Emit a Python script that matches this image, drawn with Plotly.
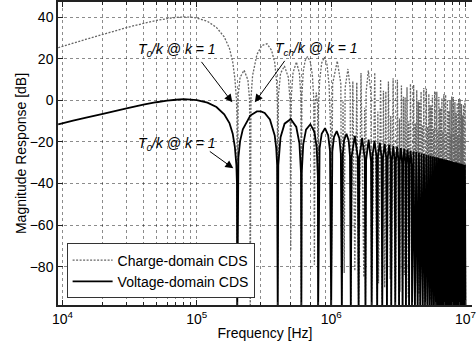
import plotly.graph_objects as go

# ---------------- data ----------------
# Voltage-domain CDS: frequency [kHz] and magnitude [dB]
v_freq_khz = [
    9.3, 12, 15, 20, 30, 40, 50, 60, 70, 80, 90, 100, 120, 140, 160, 175, 185, 192, 197, 199, 200,
    204, 210, 220, 250, 280, 300, 320, 350, 380, 390, 396, 400,
    404, 420, 450, 500, 550, 580, 596, 600,
    604, 620, 650, 700, 750, 780, 796, 800,
    820, 850, 900, 950, 980, 1000,
    1020, 1050, 1100, 1150, 1180, 1200,
    1220, 1250, 1300, 1350, 1380, 1400,
    1420, 1500, 1580, 1600,
    1620, 1700, 1780, 1800,
    1820, 1900, 1980, 2000,
    2030, 2100, 2170, 2200,
    2230, 2300, 2370, 2400,
    2430, 2500, 2570, 2600,
    2630, 2700, 2770, 2800,
    2830, 2900, 2970, 3000,
    3030, 3100, 3170, 3200,
    3230, 3300, 3370, 3400,
    3430, 3500, 3570, 3600,
    3630, 3700, 3770, 3800,
    3830, 3900, 3970, 4000,
    4100, 4200, 4300, 4400, 4500, 4600, 4700, 4800, 4900, 5000,
    5100, 5200, 5300, 5400, 5500, 5600, 5700, 5800, 5900, 6000,
    6100, 6200, 6300, 6400, 6500, 6600, 6700, 6800, 6900, 7000,
    7100, 7200, 7300, 7400, 7500, 7600, 7700, 7800, 7900, 8000,
    8100, 8200, 8300, 8400, 8500, 8600, 8700, 8800, 8900, 9000,
    9100, 9200, 9300, 9400, 9500, 9600, 9700, 9800, 9900, 10000,
]
v_db = [
    -11.5, -9.7, -8.3, -6.5, -3.8, -2.1, -0.9, -0.1, 0.3, 0.6, 0.4, 0.1, -1.1, -3.2, -6.7, -10.9, -16.0, -22.5, -31.0, -40.0, -100,
    -27.4, -19.6, -13.9, -7.3, -5.3, -5.3, -6.1, -9.2, -16.9, -23.0, -31.0, -100,
    -31.2, -17.7, -11.2, -9.0, -12.8, -20.5, -34.5, -100,
    -34.7, -21.0, -14.1, -11.5, -15.1, -22.6, -36.6, -100,
    -23.1, -16.1, -13.4, -16.8, -24.3, -100,
    -24.5, -17.5, -14.8, -18.2, -25.6, -100,
    -25.8, -18.8, -16.1, -19.4, -26.8, -100,
    -26.9, -17.1, -27.7, -100,
    -27.8, -18.0, -28.5, -100,
    -28.7, -18.9, -29.3, -100,
    -26.5, -19.6, -26.6, -100,
    -27.1, -20.3, -27.3, -100,
    -27.7, -20.9, -27.9, -100,
    -28.2, -21.4, -28.4, -100,
    -28.8, -22.0, -29.0, -100,
    -29.2, -22.4, -29.4, -100,
    -29.7, -22.9, -29.9, -100,
    -30.1, -23.3, -30.3, -100,
    -30.5, -23.7, -30.7, -100,
    -30.9, -24.1, -31.1, -100,
    -24.5, -100, -24.8, -100, -25.2, -100, -25.5, -100, -25.8, -100,
    -26.1, -100, -26.4, -100, -26.6, -100, -26.9, -100, -27.2, -100,
    -27.4, -100, -27.6, -100, -27.9, -100, -28.1, -100, -28.3, -100,
    -28.5, -100, -28.7, -100, -28.9, -100, -29.1, -100, -29.3, -100,
    -29.5, -100, -29.7, -100, -29.8, -100, -30.0, -100, -30.2, -100,
    -30.3, -100, -30.5, -100, -30.7, -100, -30.8, -100, -31.0, -100,
]

# Charge-domain CDS: frequency [kHz] and magnitude [dB]
c_freq_khz = [
    9.3, 12, 15, 20, 30, 40, 50, 60, 70, 80, 90, 100, 120, 140, 160, 175, 185, 192, 197, 199, 200,
    203, 210, 225, 240, 247, 250,
    253, 260, 280, 305, 333, 360, 380, 393, 398, 400,
    405, 420, 449, 480, 495, 500,
    505, 520, 551, 580, 595, 600,
    605, 620, 640, 667, 700, 725, 742, 750,
    758, 775, 792, 800,
    805, 820, 850, 890, 930, 965, 990, 1000,
    1025, 1110, 1180, 1200,
    1225, 1250,
    1270, 1333, 1385, 1400,
    1449, 1500,
    1551, 1600,
    1667, 1750,
    1775, 1800,
    1820, 1890, 1975, 2000,
    2110, 2200, 2225, 2250, 2333, 2400, 2449, 2500, 2551, 2600, 2667, 2750, 2775, 2800, 2890, 3000,
    3110, 3200, 3225, 3250, 3333, 3400, 3449, 3500, 3551, 3600, 3667, 3750, 3775, 3800, 3890, 4000,
    4110, 4200, 4225, 4250, 4333, 4400, 4449, 4500, 4551, 4600, 4667, 4750, 4775, 4800, 4890, 5000,
    5110, 5200, 5225, 5250, 5333, 5400, 5449, 5500, 5551, 5600, 5667, 5750, 5775, 5800, 5890, 6000,
    6110, 6200, 6225, 6250, 6333, 6400, 6449, 6500, 6551, 6600, 6667, 6750, 6775, 6800, 6890, 7000,
    7110, 7200, 7225, 7250, 7333, 7400, 7449, 7500, 7551, 7600, 7667, 7750, 7775, 7800, 7890, 8000,
    8110, 8200, 8225, 8250, 8333, 8400, 8449, 8500, 8551, 8600, 8667, 8750, 8775, 8800, 8890, 9000,
    9110, 9200, 9225, 9250, 9333, 9400, 9449, 9500, 9551, 9600, 9667, 9750, 9775, 9800, 9890, 10000,
]
c_db = [
    25.3, 27.5, 29.4, 31.7, 35.0, 37.0, 38.4, 39.3, 39.9, 40.1, 40.0, 39.6, 38.0, 35.1, 30.5, 25.0, 18.5, 10.5, 1.0, -8.0, -100,
    2.2, 11.1, 14.5, 9.8, 0.3, -100,
    0.9, 11.9, 22.0, 26.4, 27.2, 24.1, 18.2, 8.7, -2.2, -100,
    2.3, 13.0, 16.5, 11.0, -0.8, -72,
    1.9, 13.2, 18.5, 13.1, 1.8, -100,
    2.0, 14.0, 19.1, 21.1, 18.5, 11.9, 0.6, -79,
    -1.8, 3.7, -2.3, -100,
    -4.1, 9.3, 18.0, 20.8, 17.4, 7.3, -14.0, -100,
    8.0, 18.9, 8.0, -100,
    -0.2, -83,
    6.0, 15.1, 6.0, -100,
    9.2, -82,
    8.6, -100,
    13.2, -85,
    -3.5, -100,
    4.0, 14.3, 4.0, -100,
    13.3, -100, -5.4, -88, 10.2, -100, 4.6, -90, 4.3, -100, 9.1, -86, -7.4, -100, 10.6, -100,
    9.9, -100, -8.7, -92, 7.1, -100, 1.7, -84, 1.4, -100, 6.3, -95, -10.0, -100, 8.0, -100,
    7.5, -100, -11.0, -88, 4.9, -100, -0.6, -93, -0.7, -100, 4.2, -86, -12.1, -100, 6.0, -100,
    5.6, -100, -12.8, -90, 3.1, -100, -2.3, -96, -2.5, -100, 2.5, -89, -13.7, -100, 4.4, -100,
    4.1, -100, -14.4, -94, 1.6, -100, -3.8, -87, -3.9, -100, 1.1, -97, -15.1, -100, 3.0, -100,
    2.7, -100, -15.7, -91, 0.3, -100, -5.0, -95, -5.1, -100, -0.1, -88, -16.3, -100, 1.8, -100,
    1.6, -100, -16.8, -100, -0.8, -100, -6.1, -92, -6.2, -100, -1.2, -96, -17.3, -100, 0.8, -100,
    0.6, -100, -17.8, -90, -1.8, -100, -7.1, -100, -7.2, -100, -2.1, -94, -18.3, -100, -0.1, -100,
]

x_tick_vals = [1e4, 1e5, 1e6, 1e7]
x_tick_text = ["10<sup>4</sup>", "10<sup>5</sup>", "10<sup>6</sup>", "10<sup>7</sup>"]
y_tick_vals = [-80, -60, -40, -20, 0, 20, 40]

assert len(v_freq_khz) == len(v_db)
assert len(c_freq_khz) == len(c_db)

v_freq_hz = [f * 1e3 for f in v_freq_khz]
c_freq_hz = [f * 1e3 for f in c_freq_khz]

minor_vals = [m * 10 ** e for e in (4, 5, 6) for m in range(2, 10)]

GRID = "rgba(0,0,0,0.45)"
AX = "#222222"
FONT = "Liberation Sans, Arial, sans-serif"

fig = go.Figure()
fig.add_trace(go.Scatter(
    x=c_freq_hz, y=c_db, mode="lines", name="Charge-domain CDS",
    line=dict(color="#666666", width=1.3, dash="2px,1.5px", simplify=False),
    hoverinfo="skip",
))
fig.add_trace(go.Scatter(
    x=v_freq_hz, y=v_db, mode="lines", name="Voltage-domain CDS",
    line=dict(color="black", width=1.8, simplify=False),
    hoverinfo="skip",
))

fig.update_layout(
    width=476, height=348,
    margin=dict(l=58, r=0, t=1, b=43, pad=0),
    paper_bgcolor="white", plot_bgcolor="white",
    font=dict(family=FONT, size=13, color="black"),
    showlegend=True,
    legend=dict(
        x=0.0208, y=0.203, xanchor="left", yanchor="top",
        bgcolor="white", bordercolor="#333333", borderwidth=1,
        font=dict(family=FONT, size=14), tracegroupgap=0,
        itemwidth=40,
    ),
    xaxis=dict(
        type="log", range=[3.967, 7.048],
        tickvals=x_tick_vals, ticktext=x_tick_text,
        tickfont=dict(family=FONT, size=14),
        ticklabeloverflow="allow",
        ticks="inside", ticklen=5, tickcolor=AX,
        showgrid=True, gridcolor=GRID, griddash="dot", gridwidth=1,
        minor=dict(tickvals=minor_vals, ticks="inside", ticklen=3, tickcolor=AX,
                   showgrid=True, gridcolor=GRID, griddash="dot", gridwidth=1),
        showline=True, linecolor=AX, linewidth=1.5, mirror="ticks",
        zeroline=False,
        title=dict(text="Frequency [Hz]", standoff=3, font=dict(family=FONT, size=14)),
    ),
    yaxis=dict(
        range=[-98.4, 47.3],
        tickvals=y_tick_vals,
        tickfont=dict(family=FONT, size=14),
        ticks="inside", ticklen=5, tickcolor=AX,
        showgrid=True, gridcolor=GRID, griddash="dot", gridwidth=1,
        showline=True, linecolor=AX, linewidth=1.5, mirror=False,
        zeroline=False,
        title=dict(text="Magnitude Response [dB]", standoff=0, font=dict(family=FONT, size=14)),
    ),
)

# arrows (head position in data coords, tail offset in pixels)
arrow_style = dict(showarrow=True, arrowhead=2, arrowsize=1.6, arrowwidth=1,
                   arrowcolor="black", text="", xref="x", yref="y")
fig.add_annotation(x=5.2643, y=-0.96, ax=-32, ay=-42, **arrow_style)
fig.add_annotation(x=5.2717, y=-32.7, ax=-25, ay=-18, **arrow_style)
fig.add_annotation(x=5.4316, y=-0.96, ax=31, ay=-43, **arrow_style)

label_style = dict(showarrow=False, xref="x", yref="y", font=dict(family=FONT, size=14, color="black"))
fig.add_annotation(x=4.8537, y=24.15, text="<i>T<sub>0</sub>/k @ k = 1</i>", **label_style)
fig.add_annotation(x=4.8537, y=-21.2, text="<i>T<sub>0</sub>/k @ k = 1</i>", **label_style)
fig.add_annotation(x=5.8908, y=24.6, text="<i>T<sub>ch</sub>/k @ k = 1</i>", **label_style)

fig.write_html("out.html")
